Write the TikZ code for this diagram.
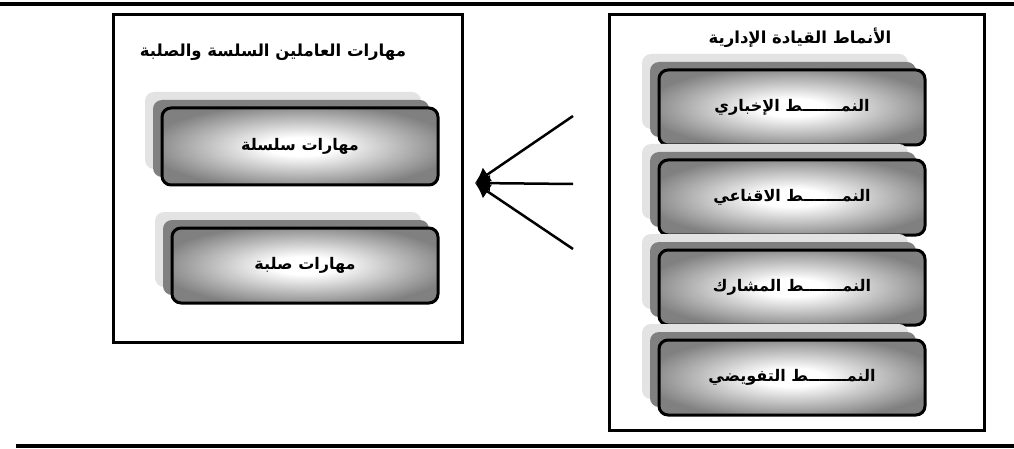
\documentclass[tikz,border=0pt]{standalone}
\usepackage{fontspec}
\usetikzlibrary{arrows.meta,shadows}
\TeXXeTstate=1
\newfontfamily\arabicfont[Script=Arabic]{DejaVu Sans}
\pgfdeclareradialshading{glow}{\pgfpoint{0bp}{0bp}}{color(0bp)=(white); color(6bp)=(white); color(28bp)=(black!50); color(50bp)=(black!50)}
\begin{document}
\begin{tikzpicture}[x=1pt,y=-1pt,
  frame/.style={draw, line width=3pt},
  title/.style={font=\arabicfont\bfseries\fontsize{16.5}{18}\selectfont},
  front/.style={rounded corners=9pt, draw, line width=3pt, shading=glow,
    general shadow={fill=black!11, draw=none, shadow xshift=-17pt, shadow yshift=16pt},
    general shadow={fill=black!50, draw=none, shadow xshift=-9pt, shadow yshift=8pt},
    minimum width=266pt, minimum height=75pt, inner sep=0pt,
    font=\arabicfont\bfseries\fontsize{16}{18}\selectfont},
  rule/.style={line width=4pt},
  arr/.style={line width=2.5pt, -{Latex[length=15pt,width=17pt]}}]
\useasboundingbox (0,0) rectangle (1014,449);
% rules
\coordinate (r1a) at (0,4); \coordinate (r1b) at (1014,4);
\coordinate (r2a) at (16,446); \coordinate (r2b) at (1014,446);
\draw[rule] (r1a) -- (r1b);
\draw[rule] (r2a) -- (r2b);
% outer frames
\node[frame, minimum width=349pt, minimum height=327pt, inner sep=0pt] (L) at (287.5,178.5) {};
\node[frame, minimum width=375pt, minimum height=415pt, inner sep=0pt] (R) at (796.5,222.5) {};
\node[title] (Lt) at (273,52) {\beginR مهارات العاملين السلسة والصلبة\endR};
\node[title] (Rt) at (800,38) {\beginR الأنماط القيادة الإدارية\endR};
% left boxes
\node[front, minimum width=276pt, minimum height=77pt] (l1) at (300,146.5) {\beginR مهارات سلسلة\endR};
\node[front] (l2) at (305,265.5) {\beginR مهارات صلبة\endR};
% right boxes
\node[front] (b1) at (792,107.5) {\beginR النمـــــــط الإخباري\endR};
\node[front] (b2) at (792,197.5) {\beginR النمـــــــط الاقناعي\endR};
\node[front] (b3) at (792,287.5) {\beginR النمـــــــط المشارك\endR};
\node[front] (b4) at (792,377.5) {\beginR النمـــــــط التفويضي\endR};
% arrows
\coordinate (tip) at (475,183);
\coordinate (a1) at (573,116);
\coordinate (a2) at (573,184);
\coordinate (a3) at (573,249);
\draw[arr] (a1) -- (tip);
\draw[arr] (a2) -- (tip);
\draw[arr] (a3) -- (tip);
\end{tikzpicture}
\end{document}
